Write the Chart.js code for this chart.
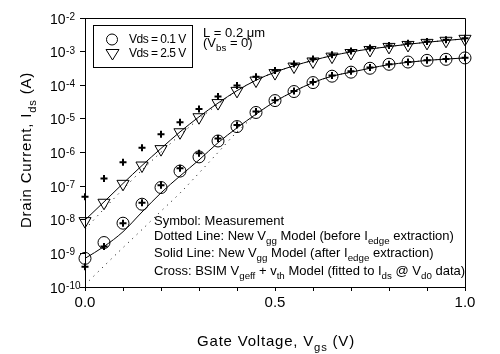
<!DOCTYPE html>
<html>
<head>
<meta charset="utf-8">
<script src="https://cdn.jsdelivr.net/npm/chart.js@4.4.0/dist/chart.umd.min.js"></script>
<style>
    html, body { margin: 0; padding: 0; background: #fff; }
</style>
</head>
<body>
<canvas id="Stroom_Chart" width="500" height="354"></canvas>
<script>
// Gate spanning (V)
const vgs = [0, 0.05, 0.1, 0.15, 0.2, 0.25, 0.3, 0.35, 0.4, 0.45, 0.5, 0.55, 0.6, 0.65, 0.7, 0.75, 0.8, 0.85, 0.9, 0.95, 1.0];

// Metingen (A)
const meting01 = [7.1e-10, 2.1e-9, 7.9e-9, 2.9e-8, 9.1e-8, 2.8e-7, 7.4e-7, 2.2e-6, 5.9e-6, 1.55e-5, 3.5e-5, 6.5e-5, 1.2e-4, 1.86e-4, 2.45e-4, 3.2e-4, 4.2e-4, 4.9e-4, 5.5e-4, 5.9e-4, 6.5e-4];
const meting25 = [9.1e-9, 3.2e-8, 1.17e-7, 4.1e-7, 1.26e-6, 4.0e-6, 1.12e-5, 2.95e-5, 6.8e-5, 1.38e-4, 2.3e-4, 3.6e-4, 5.1e-4, 7.1e-4, 9.1e-4, 1.12e-3, 1.38e-3, 1.58e-3, 1.82e-3, 2.1e-3, 2.4e-3];

// BSIM model (kruisjes)
const bsim01 = [4.0e-10, 1.6e-9, 7.9e-9, 3.2e-8, 1.07e-7, 3.4e-7, 9.5e-7, 2.6e-6, 6.6e-6, 1.66e-5, 3.6e-5, 6.8e-5, 1.26e-4, 1.95e-4, 2.6e-4, 3.4e-4, 4.2e-4, 4.9e-4, 5.5e-4, 6.0e-4, 6.6e-4];
const bsim25 = [4.8e-8, 1.7e-7, 5.1e-7, 1.38e-6, 3.5e-6, 7.9e-6, 1.95e-5, 4.6e-5, 9.8e-5, 1.78e-4, 2.75e-4, 4.3e-4, 6.0e-4, 8.1e-4, 1.05e-3, 1.29e-3, 1.51e-3, 1.78e-3, 2.0e-3, 2.24e-3, 2.5e-3];

// Vgg model: na Iedge extractie (doorgetrokken) en ervoor (gestippeld)
const naIedge01 = [7.1e-10, 1.6e-9, 4.4e-9, 1.7e-8, 6.3e-8, 2.0e-7, 6.0e-7, 1.95e-6, 5.4e-6, 1.38e-5, 3.3e-5, 6.6e-5, 1.2e-4, 1.86e-4, 2.45e-4, 3.2e-4, 4.1e-4, 4.8e-4, 5.5e-4, 6.0e-4, 6.5e-4];
const voorIedge01 = [1.17e-10, 4.2e-10, 1.48e-9, 5.1e-9, 1.8e-8, 6.2e-8, 2.45e-7, 1.0e-6, 4.1e-6, 1.32e-5, 3.3e-5, 6.6e-5, 1.2e-4, 1.86e-4, 2.45e-4, 3.2e-4, 4.1e-4, 4.8e-4, 5.5e-4, 6.0e-4, 6.5e-4];
const naIedge25 = [9.8e-9, 3.4e-8, 1.2e-7, 4.1e-7, 1.32e-6, 4.1e-6, 1.15e-5, 2.95e-5, 6.9e-5, 1.41e-4, 2.45e-4, 3.8e-4, 5.5e-4, 7.6e-4, 9.8e-4, 1.2e-3, 1.41e-3, 1.66e-3, 1.9e-3, 2.15e-3, 2.4e-3];
const voorIedge25 = [5.2e-9, 2.1e-8, 8.1e-8, 3.0e-7, 1.02e-6, 3.3e-6, 1.0e-5, 2.7e-5, 6.9e-5, 1.41e-4, 2.45e-4, 3.8e-4, 5.5e-4, 7.6e-4, 9.8e-4, 1.2e-3, 1.41e-3, 1.66e-3, 1.9e-3, 2.15e-3, 2.4e-3];

// As labels
const xTickWaarden = [0, 0.5, 1.0];
const xTickLabels = ['0.0', '0.5', '1.0'];
const yTickExponenten = [-2, -3, -4, -5, -6, -7, -8, -9, -10];

// Teksten (deel, 'sub'/'sup'/'')
const legendaTeksten = ['Vds = 0.1 V', 'Vds = 2.5 V'];
const xTitel = [['Gate Voltage, V', ''], ['gs', 'sub'], [' (V)', '']];
const yTitel = [['Drain Current, I', ''], ['ds', 'sub'], [' (A)', '']];
const notities = [
    [['Symbol: Measurement', '']],
    [['Dotted Line: New V', ''], ['gg', 'sub'], [' Model (before I', ''], ['edge', 'sub'], [' extraction)', '']],
    [['Solid Line: New V', ''], ['gg', 'sub'], [' Model (after I', ''], ['edge', 'sub'], [' extraction)', '']],
    [['Cross: BSIM V', ''], ['geff', 'sub'], [' + v', ''], ['th', 'sub'], [' Model (fitted to I', ''], ['ds', 'sub'], [' @ V', ''], ['d0', 'sub'], [' data)', '']]
];
const lengteTekst = [['L = 0.2 \u03BCm', '']];
const vbsTekst = [['(V', ''], ['bs', 'sub'], [' = 0)', '']];

const FONT = '"Liberation Sans", Arial, sans-serif';

function punten(reeks) {
    return vgs.map((v, i) => ({ x: v, y: reeks[i] }));
}

// Tekst met sub/superscript
function tekenRijk(ctx, delen, x, y, grootte, spatie, alleenMeten) {
    let start = x;
    delen.forEach(([t, soort]) => {
        let fs = soort ? grootte * 0.75 : grootte;
        let dy = soort === 'sub' ? grootte * 0.3 : (soort === 'sup' ? -grootte * 0.4 : 0);
        ctx.font = fs + 'px ' + FONT;
        ctx.letterSpacing = spatie + 'px';
        if (!alleenMeten) ctx.fillText(t, x, y + dy);
        x += ctx.measureText(t).width;
    });
    return x - start;
}

const extrasPlugin = {
    id: 'extras',
    afterDraw(chart) {
        const ctx = chart.ctx;
        const ca = chart.chartArea;
        const yas = chart.scales.y;
        ctx.save();
        ctx.fillStyle = '#000';
        ctx.strokeStyle = '#000';
        ctx.lineWidth = 1;
        ctx.textBaseline = 'alphabetic';
        ctx.textAlign = 'left';

        // Kader boven en rechts
        ctx.beginPath();
        ctx.moveTo(ca.left, Math.round(ca.top) + 0.5);
        ctx.lineTo(Math.round(ca.right) + 0.5, Math.round(ca.top) + 0.5);
        ctx.lineTo(Math.round(ca.right) + 0.5, ca.bottom);
        ctx.stroke();

        // Y tick labels 10^n
        yTickExponenten.forEach(e => {
            let py = yas.getPixelForValue(Math.pow(10, e));
            ctx.font = '14px ' + FONT;
            ctx.letterSpacing = '0px';
            ctx.fillText('10', 50, py + 5.5);
            let w = ctx.measureText('10').width;
            ctx.font = '10px ' + FONT;
            ctx.fillText(String(e), 50 + w + 0.5, py + 2);
        });

        // X titel
        let bx = tekenRijk(ctx, xTitel, 0, 0, 15, 0.8, true);
        tekenRijk(ctx, xTitel, 276 - bx / 2, 346, 15, 0.8);

        // Y titel
        let by = tekenRijk(ctx, yTitel, 0, 0, 15, 0.8, true);
        ctx.save();
        ctx.translate(31, 150 + by / 2);
        ctx.rotate(-Math.PI / 2);
        tekenRijk(ctx, yTitel, 0, 0, 15, 0.8);
        ctx.restore();

        // Legenda
        ctx.strokeRect(93.5, 25.5, 99, 42);
        ctx.beginPath();
        ctx.arc(112, 39.5, 5.5, 0, Math.PI * 2);
        ctx.stroke();
        ctx.beginPath();
        ctx.moveTo(106, 49.5);
        ctx.lineTo(119, 49.5);
        ctx.lineTo(112.5, 60);
        ctx.closePath();
        ctx.stroke();
        tekenRijk(ctx, [[legendaTeksten[0], '']], 129, 43, 12, -0.5);
        tekenRijk(ctx, [[legendaTeksten[1], '']], 129, 57, 12, -0.5);

        // L en Vbs
        tekenRijk(ctx, lengteTekst, 203, 37, 13, 0);
        tekenRijk(ctx, vbsTekst, 203, 47, 13, 0);

        // Notities
        const basislijnen = [225, 240, 257, 275];
        notities.forEach((regel, i) => {
            tekenRijk(ctx, regel, 154, basislijnen[i], 13, 0);
        });
        ctx.restore();
    }
};

const zwart = '#000';

function lijnSet(reeks, stippel) {
    return {
        data: punten(reeks),
        borderColor: zwart,
        borderWidth: 1,
        borderDash: stippel ? [1, 5] : [],
        pointRadius: 0,
        cubicInterpolationMode: 'monotone',
        fill: false,
        order: 5
    };
}

function symboolSet(reeks, stijl, straal, dikte, rotatie) {
    return {
        data: punten(reeks),
        showLine: false,
        pointStyle: stijl,
        pointRadius: straal,
        pointRotation: rotatie || 0,
        pointBorderColor: zwart,
        pointBackgroundColor: 'rgba(0,0,0,0)',
        pointBorderWidth: dikte,
        clip: false,
        order: 1
    };
}

var stroomChart;

function tekenStroomGrafiek() {
    var ctx = document.getElementById('Stroom_Chart').getContext('2d');
    stroomChart = new Chart(ctx, {
        type: 'line',
        data: {
            datasets: [
                symboolSet(meting01, 'circle', 6, 1),
                symboolSet(meting25, 'triangle', 7, 1, 180),
                symboolSet(bsim01, 'cross', 3.5, 2),
                symboolSet(bsim25, 'cross', 3.5, 2),
                lijnSet(naIedge01, false),
                lijnSet(naIedge25, false),
                lijnSet(voorIedge01, true),
                lijnSet(voorIedge25, true)
            ]
        },
        options: {
            responsive: false,
            animation: false,
            devicePixelRatio: 1,
            layout: { padding: { top: 18, right: 35, left: 0, bottom: 0 } },
            plugins: { legend: { display: false }, tooltip: { enabled: false } },
            scales: {
                x: {
                    type: 'linear',
                    min: 0,
                    max: 1,
                    ticks: {
                        stepSize: 0.1,
                        autoSkip: false,
                        maxRotation: 0,
                        padding: 3,
                        color: zwart,
                        font: { family: 'Liberation Sans', size: 15 },
                        callback: (v) => {
                            let i = xTickWaarden.findIndex(w => Math.abs(w - v) < 1e-6);
                            return i >= 0 ? xTickLabels[i] : '';
                        }
                    },
                    grid: { drawOnChartArea: false, drawTicks: true, tickLength: 4, color: zwart },
                    border: { color: zwart, width: 1 },
                    afterFit: (s) => { s.height = 67; }
                },
                y: {
                    type: 'logarithmic',
                    min: 1e-10,
                    max: 1e-2,
                    afterBuildTicks: (s) => {
                        s.ticks = yTickExponenten.map(e => ({ value: Math.pow(10, e) }));
                    },
                    ticks: { display: false },
                    grid: { drawOnChartArea: false, drawTicks: true, tickLength: 5, color: zwart },
                    border: { color: zwart, width: 1 },
                    afterFit: (s) => { s.width = 85; }
                }
            }
        },
        plugins: [extrasPlugin]
    });
}

window.onload = function() {
    tekenStroomGrafiek();
};
</script>
</body>
</html>
